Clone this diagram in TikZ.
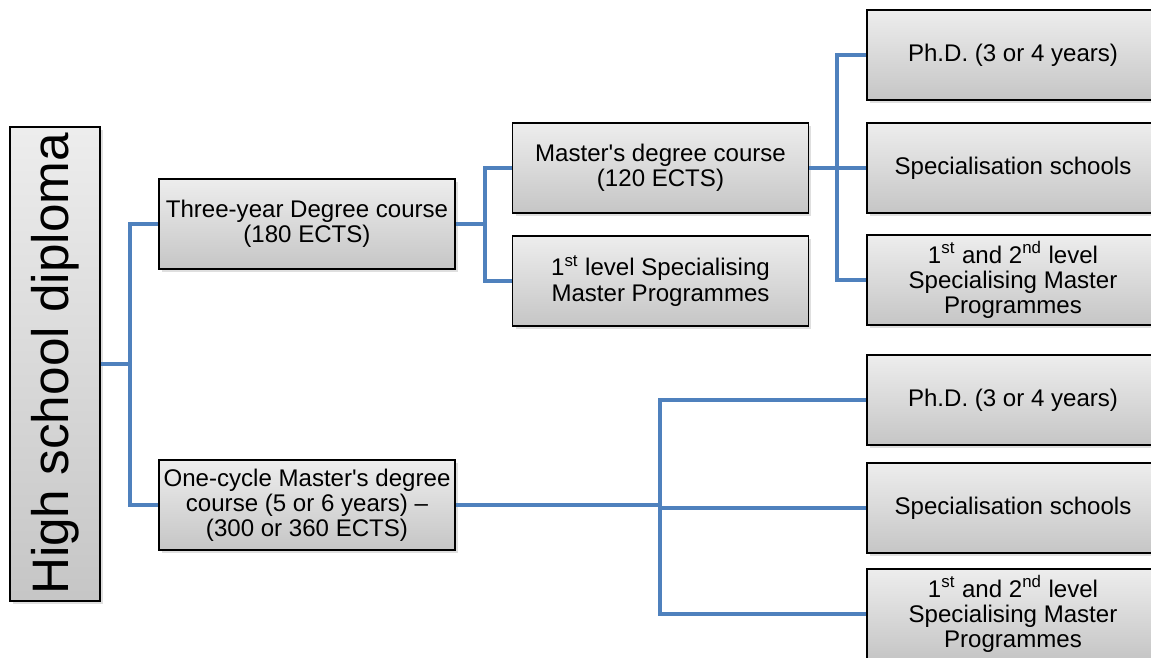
\documentclass[tikz,border=0pt]{standalone}
\usepackage{fontspec}
\setmainfont{Liberation Sans}
\usetikzlibrary{shadows}
\definecolor{linkblue}{HTML}{4F81BD}

\begin{document}
\begin{tikzpicture}[x=0.02cm,y=-0.02cm,
  box/.style={draw=black, line width=1pt, top color=gray!14, bottom color=gray!45,
    drop shadow={opacity=0.25, shadow xshift=0.06cm, shadow yshift=-0.06cm},
    align=center, inner sep=1pt, font=\fontsize{13.7}{14.3}\selectfont},
  midbox/.style={box, minimum width=5.92cm, minimum height=1.8cm},
  endbox/.style={box, minimum width=5.84cm, minimum height=1.8cm},
  link/.style={draw=linkblue, line width=2.3pt}]
\useasboundingbox (0,0) rectangle (1151,658);
\clip (0,0) rectangle (1151,658);
\node[box, rotate=90, minimum width=9.48cm, minimum height=1.8cm, font=\fontsize{29.2}{30}\selectfont] (hs) at (55,364) {High school diploma};
\node[midbox] (three) at (307,224) {Three-year Degree course\\(180 ECTS)};
\node[midbox] (one) at (307,505) {One-cycle Master\textquotesingle s degree\\course (5 or 6 years) --\\(300 or 360 ECTS)};
\node[midbox] (master) at (660.5,168) {Master\textquotesingle s degree course\\(120 ECTS)};
\node[midbox] (first) at (660.5,281) {1\textsuperscript{st} level Specialising\\Master Programmes};
\node[endbox] (phd1) at (1013,55) {Ph.D. (3 or 4 years)};
\node[endbox] (spec1) at (1013,168) {Specialisation schools};
\node[endbox] (prog1) at (1013,280) {1\textsuperscript{st} and 2\textsuperscript{nd} level\\Specialising Master\\Programmes};
\node[endbox] (phd2) at (1013,400) {Ph.D. (3 or 4 years)};
\node[endbox] (spec2) at (1013,508) {Specialisation schools};
\node[endbox] (prog2) at (1013,614) {1\textsuperscript{st} and 2\textsuperscript{nd} level\\Specialising Master\\Programmes};
\coordinate (j1) at (130,364);
\coordinate (j2) at (485,224);
\coordinate (j3) at (837,168);
\coordinate (j4) at (660,505);
\draw[link] (hs.south) -- (j1);
\draw[link] (j1) |- (three.west);
\draw[link] (j1) |- (one.west);
\draw[link] (three.east) -- (j2);
\draw[link] (j2) |- (master.west);
\draw[link] (j2) |- (first.west);
\draw[link] (master.east) -- (j3);
\draw[link] (j3) |- (phd1.west);
\draw[link] (j3) |- (spec1.west);
\draw[link] (j3) |- (prog1.west);
\draw[link] (one.east) -- (j4);
\draw[link] (j4) |- (phd2.west);
\draw[link] (j4) |- (spec2.west);
\draw[link] (j4) |- (prog2.west);
\end{tikzpicture}
\end{document}
